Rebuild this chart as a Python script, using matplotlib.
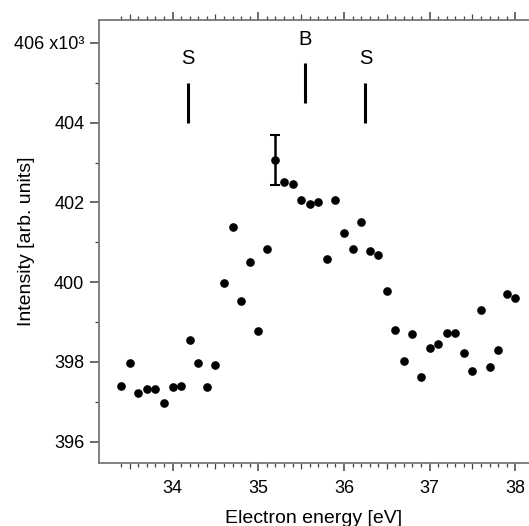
import numpy as np
import matplotlib
matplotlib.use("Agg")
import matplotlib.pyplot as plt
from matplotlib.ticker import FixedLocator, FuncFormatter

plt.rcParams['font.family'] = ['Liberation Sans', 'DejaVu Sans']

energy = [33.4, 33.5, 33.6, 33.7, 33.8, 33.9, 34.0, 34.1, 34.2, 34.3,
          34.4, 34.5, 34.6, 34.7, 34.8, 34.9, 35.0, 35.1, 35.2, 35.3,
          35.4, 35.5, 35.6, 35.7, 35.8, 35.9, 36.0, 36.1, 36.2, 36.3,
          36.4, 36.5, 36.6, 36.7, 36.8, 36.9, 37.0, 37.1, 37.2, 37.3,
          37.4, 37.5, 37.6, 37.7, 37.8, 37.9, 38.0]
intensity = [397.39, 397.96, 397.23, 397.33, 397.33, 396.97, 397.36, 397.39, 398.54, 397.97,
             397.36, 397.93, 399.97, 401.39, 399.53, 400.50, 398.77, 400.83, 403.07, 402.51,
             402.45, 402.07, 401.96, 402.02, 400.58, 402.07, 401.23, 400.83, 401.52, 400.79,
             400.68, 399.78, 398.80, 398.01, 398.70, 397.63, 398.34, 398.46, 398.72, 398.72,
             398.23, 397.77, 399.29, 397.87, 398.30, 399.71, 399.61]

err_x = [35.2]
err_y = [403.07]
err_size = [0.63]

marker_labels = ['S', 'B', 'S']
marker_pos = [34.18, 35.55, 36.25]
marker_lo = [404.0, 404.5, 404.0]
marker_hi = [405.0, 405.5, 405.0]

x_major = [34, 35, 36, 37, 38]
x_mid = [33.5, 34.5, 35.5, 36.5, 37.5]
x_minor = [round(33.4 + 0.1 * i, 1) for i in range(47)]
y_major = [396, 398, 400, 402, 404, 406]
y_minor = [397, 399, 401, 403, 405]

fig = plt.figure(figsize=(5.29, 5.26), dpi=100)
ax = fig.add_axes([0.187, 0.12, 0.813, 0.842])

ax.errorbar(err_x, err_y, yerr=err_size, fmt='none', ecolor='black',
            elinewidth=1.8, capsize=3.5, capthick=1.5, zorder=2)
ax.plot(energy, intensity, 'o', color='black', markersize=5.2, zorder=3)

for lab, xp, lo, hi in zip(marker_labels, marker_pos, marker_lo, marker_hi):
    ax.plot([xp, xp], [lo, hi], color='black', lw=2.2, solid_capstyle='butt')
    ax.text(xp, hi + 0.36, lab, ha='center', va='bottom', fontsize=14.5)

ax.set_xlim(33.14, 38.16)
ax.set_ylim(395.466, 406.577)

gray = '#777777'
for s in ['left', 'bottom', 'top']:
    ax.spines[s].set_color(gray)
    ax.spines[s].set_linewidth(1.3)
ax.spines['right'].set_visible(False)

ax.xaxis.set_major_locator(FixedLocator(x_major))
ax.xaxis.set_minor_locator(FixedLocator([v for v in x_minor if abs(v - round(v)) > 1e-6 and abs(v - round(v * 2) / 2) > 1e-6]))
ax.yaxis.set_major_locator(FixedLocator(y_major))
ax.yaxis.set_minor_locator(FixedLocator(y_minor))

def yfmt(v, pos):
    if abs(v - 406) < 1e-6:
        return '406 x10\u00b3'
    return '%d' % v
ax.yaxis.set_major_formatter(FuncFormatter(yfmt))

ax.tick_params(axis='x', which='major', direction='out', length=6, width=1.1,
               color='#444444', labelsize=13, pad=6, top=True, labeltop=False)
ax.tick_params(axis='x', which='minor', direction='out', length=3, width=0.9,
               color='#444444', top=True)
ax.tick_params(axis='y', which='major', direction='out', length=6.5, width=1.1,
               color='#444444', labelsize=13, pad=4)
ax.tick_params(axis='y', which='minor', direction='out', length=3, width=0.9,
               color='#444444')

for loc in ['bottom', 'top']:
    sec = ax.secondary_xaxis(loc)
    sec.set_xticks(x_mid)
    sec.set_xticklabels([])
    sec.tick_params(direction='out', length=4.5, width=0.9, color='#444444')
    sec.spines[loc].set_visible(False)

ax.set_xlabel('Electron energy [eV]', fontsize=14, labelpad=10)
ax.set_ylabel('Intensity [arb. units]', fontsize=14)
ax.yaxis.set_label_coords(-0.148, 0.5)

fig.savefig('out.png', dpi=100)
